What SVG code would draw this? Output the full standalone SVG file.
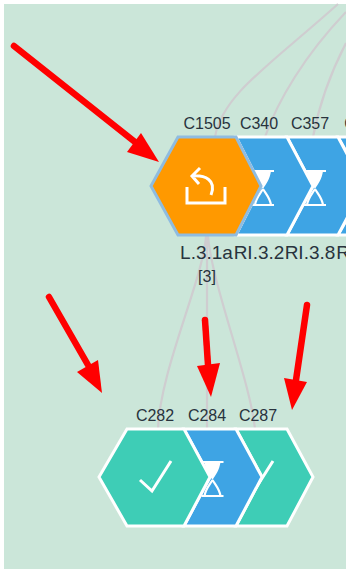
<svg xmlns="http://www.w3.org/2000/svg" width="346" height="569" viewBox="0 0 346 569">
<style>
text{font-family:"Liberation Sans",Arial,sans-serif;font-size:16px;fill:#28333d;text-anchor:middle}
.l{font-size:19px}
.c{fill:none;stroke:#cfcdd0;stroke-width:2.2}
.h{stroke:#fff;stroke-width:3;stroke-linejoin:miter}
.b{fill:#3ea4e4}
.g{fill:#3ecdb6}
.i{fill:none;stroke:#fff;stroke-width:3}
.t{fill:none;stroke:#fff;stroke-width:2.2}
.s{fill:#fff}
.a{fill:none;stroke:#f00;stroke-width:6.5;stroke-linecap:round}
.ah{fill:#f00}
</style>
<defs>
<g id="glass">
<path class="s" d="M-8 -17H8C7 -9 3 -4 0 1C-3 -4 -7 -9 -8 -17Z"/>
<path class="t" d="M-11 -17H11M-11 17H11M0 1C-3 6 -7 10 -8 17M0 1C3 6 7 10 8 17"/>
</g>
</defs>
<rect width="346" height="569" fill="#fff"/>
<rect x="4" y="4" width="342" height="565" fill="#cbe6d9"/>
<g id="connectors">
<path class="c" d="M215 137C222 95 270 65 338 4"/>
<path class="c" d="M265 137C278 100 305 55 346 12"/>
<path class="c" d="M313 137C320 100 332 70 346 43"/>
<path class="c" d="M206 236C203 280 160 370 158 429"/>
<path class="c" d="M207 236L207 429"/>
<path class="c" d="M208 236C212 285 250 380 255 429"/>
</g>
<g id="C358">
<path class="h b" d="M338 137H400V235H338L366 186Z"/>
<text x="350" y="129">C</text>
<text class="l" x="343" y="259">R</text>
</g>
<g id="C357">
<path class="h b" d="M287 137H338L364 186L338 235H287L313 186Z"/>
<use href="#glass" x="315" y="188"/>
<text x="310" y="129">C357</text>
<text class="l" x="310" y="259">RI.3.8</text>
</g>
<g id="C340">
<path class="h b" d="M236 137H287L313 186L287 235H236L261 186Z"/>
<use href="#glass" x="263" y="188"/>
<text x="259" y="129">C340</text>
<text class="l" x="259" y="259">RI.3.2</text>
</g>
<g id="C1505">
<path d="M178 137H236L261 186L236 235H178L151 186Z" fill="#ff9900" stroke="#8fbce0" stroke-width="3"/>
<path class="i" d="M187 187V203H225V187M200 168L192 176L199 184M192 176C205 175 217 180 211 195"/>
<text x="207" y="129">C1505</text>
<text class="l" x="206.500" y="259">L.3.1a</text>
<text x="207" y="282">[3]</text>
</g>
<g id="C287">
<path class="h g" d="M236 429H287L313 477L287 526H236L262 477Z"/>
<path class="i" d="M242 480L254 491L273 461"/>
<text x="258" y="421">C287</text>
</g>
<g id="C284">
<path class="h b" d="M184 429H236L262 477L236 526H184L210 477Z"/>
<use href="#glass" x="212.500" y="479"/>
<text x="207" y="421">C284</text>
</g>
<g id="C282">
<path class="h g" d="M127 429H184L210 477L184 526H127L99 477Z"/>
<path class="i" d="M140 480L152 491L171 461"/>
<text x="155" y="421">C282</text>
</g>
<g id="annotations">
<path class="a" d="M14 46L135 142"/>
<path class="ah" d="M159 162L127 152L141 133Z"/>
<path class="a" d="M49 297L88 365"/>
<path class="ah" d="M102 393L77 372L98 360Z"/>
<path class="a" d="M205 320L208 365"/>
<path class="ah" d="M211 397L197 366L220 363Z"/>
<path class="a" d="M307 305L296 380"/>
<path class="ah" d="M292 410L284 378L307 382Z"/>
</g>
</svg>
